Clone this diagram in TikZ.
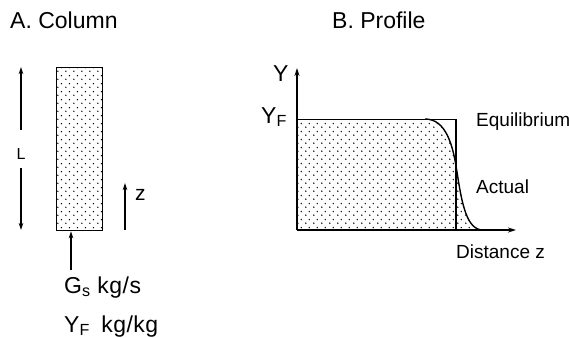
\documentclass[tikz,border=0pt]{standalone}
\usepackage{fontspec}
\setmainfont{Liberation Sans}
\usetikzlibrary{arrows.meta,patterns.meta}
\tikzdeclarepattern{
  name=sdots,
  bounding box={(0pt,0pt) and (8pt,8pt)},
  tile size={(8pt,8pt)},
  code={
    \fill (2pt,2pt) circle (0.85pt);
    \fill (6pt,6pt) circle (0.85pt);
  }
}
\tikzset{
  title/.style={anchor=base west,inner sep=0pt,font=\fontsize{23}{26}\selectfont},
  lab/.style={anchor=base west,inner sep=0pt,font=\fontsize{19}{22}\selectfont},
  big/.style={anchor=base west,inner sep=0pt,font=\fontsize{23}{26}\selectfont\addfontfeature{LetterSpace=2}},
  arr/.style={-{Stealth[length=7pt,width=4.5pt]},line width=1.2pt},
  ax/.style={-{Stealth[length=8pt,width=5pt]},line width=1.3pt},
  dotfill/.style={pattern=sdots,pattern color=black}
}
\begin{document}
\begin{tikzpicture}[x=1pt,y=-1pt]
\useasboundingbox (0,0) rectangle (569,337);
% titles
\node[title] (tA) at (10,29) {A. Column};
\node[title] (tB) at (332,29) {B. Profile};
% column
\node[draw,line width=1.3pt,dotfill,minimum width=46pt,minimum height=163pt,inner sep=0pt,anchor=north west] (col) at (56,67) {};
% L dimension
\node[inner sep=0pt,font=\fontsize{16}{18}\selectfont] (L) at (21,154) {L};
\coordinate (Lt) at (21,67);
\coordinate (Lb) at (21,230);
\coordinate (Lu) at (21,130);
\coordinate (Ld) at (21,168);
\draw[arr] (Lu) -- (Lt);
\draw[arr] (Ld) -- (Lb);
% z arrow
\coordinate (z0) at (125,230);
\coordinate (z1) at (125,183);
\draw[arr] (z0) -- (z1);
\node[anchor=base west,inner sep=0pt,font=\fontsize{21}{24}\selectfont] (zl) at (135,200) {z};
% feed arrow
\coordinate (g0) at (71,270);
\draw[arr] (g0) -- (col.south -| g0);
\node[big] (gs) at (64,293) {G\textsubscript{s} kg/s};
\node[big] (yf) at (64,332) {Y\textsubscript{F}\enspace kg/kg};
% profile
\coordinate (O) at (297,230);
\coordinate (Ytop) at (297,68);
\coordinate (Xend) at (516,230);
\coordinate (F0) at (297,119);
\coordinate (C0) at (425,119);
\coordinate (Cm) at (457,172);
\coordinate (C1) at (483,230);
\coordinate (E1) at (456,119);
\coordinate (E2) at (456,230);
\fill[dotfill] (F0) -- (C0) .. controls (446,119) and (453,145) .. (Cm)
  .. controls (462,205) and (467,230) .. (C1) -- (O) -- cycle;
\draw[line width=1pt] (F0) -- (E1);
\draw[line width=1.6pt] (E1) -- (E2);
\draw[line width=1.4pt] (C0) .. controls (446,119) and (453,145) .. (Cm)
  .. controls (462,205) and (467,230) .. (C1);
\draw[ax] (O) -- (Ytop);
\draw[ax] (O) -- (Xend);
\node[title] (Yl) at (273,81) {Y};
\node[title] (YFl) at (261,123) {Y\textsubscript{F}};
\node[lab] (eq) at (476,126) {Equilibrium};
\node[lab] (ac) at (476,193) {Actual};
\node[lab] (dz) at (456,258) {Distance z};
\end{tikzpicture}
\end{document}
